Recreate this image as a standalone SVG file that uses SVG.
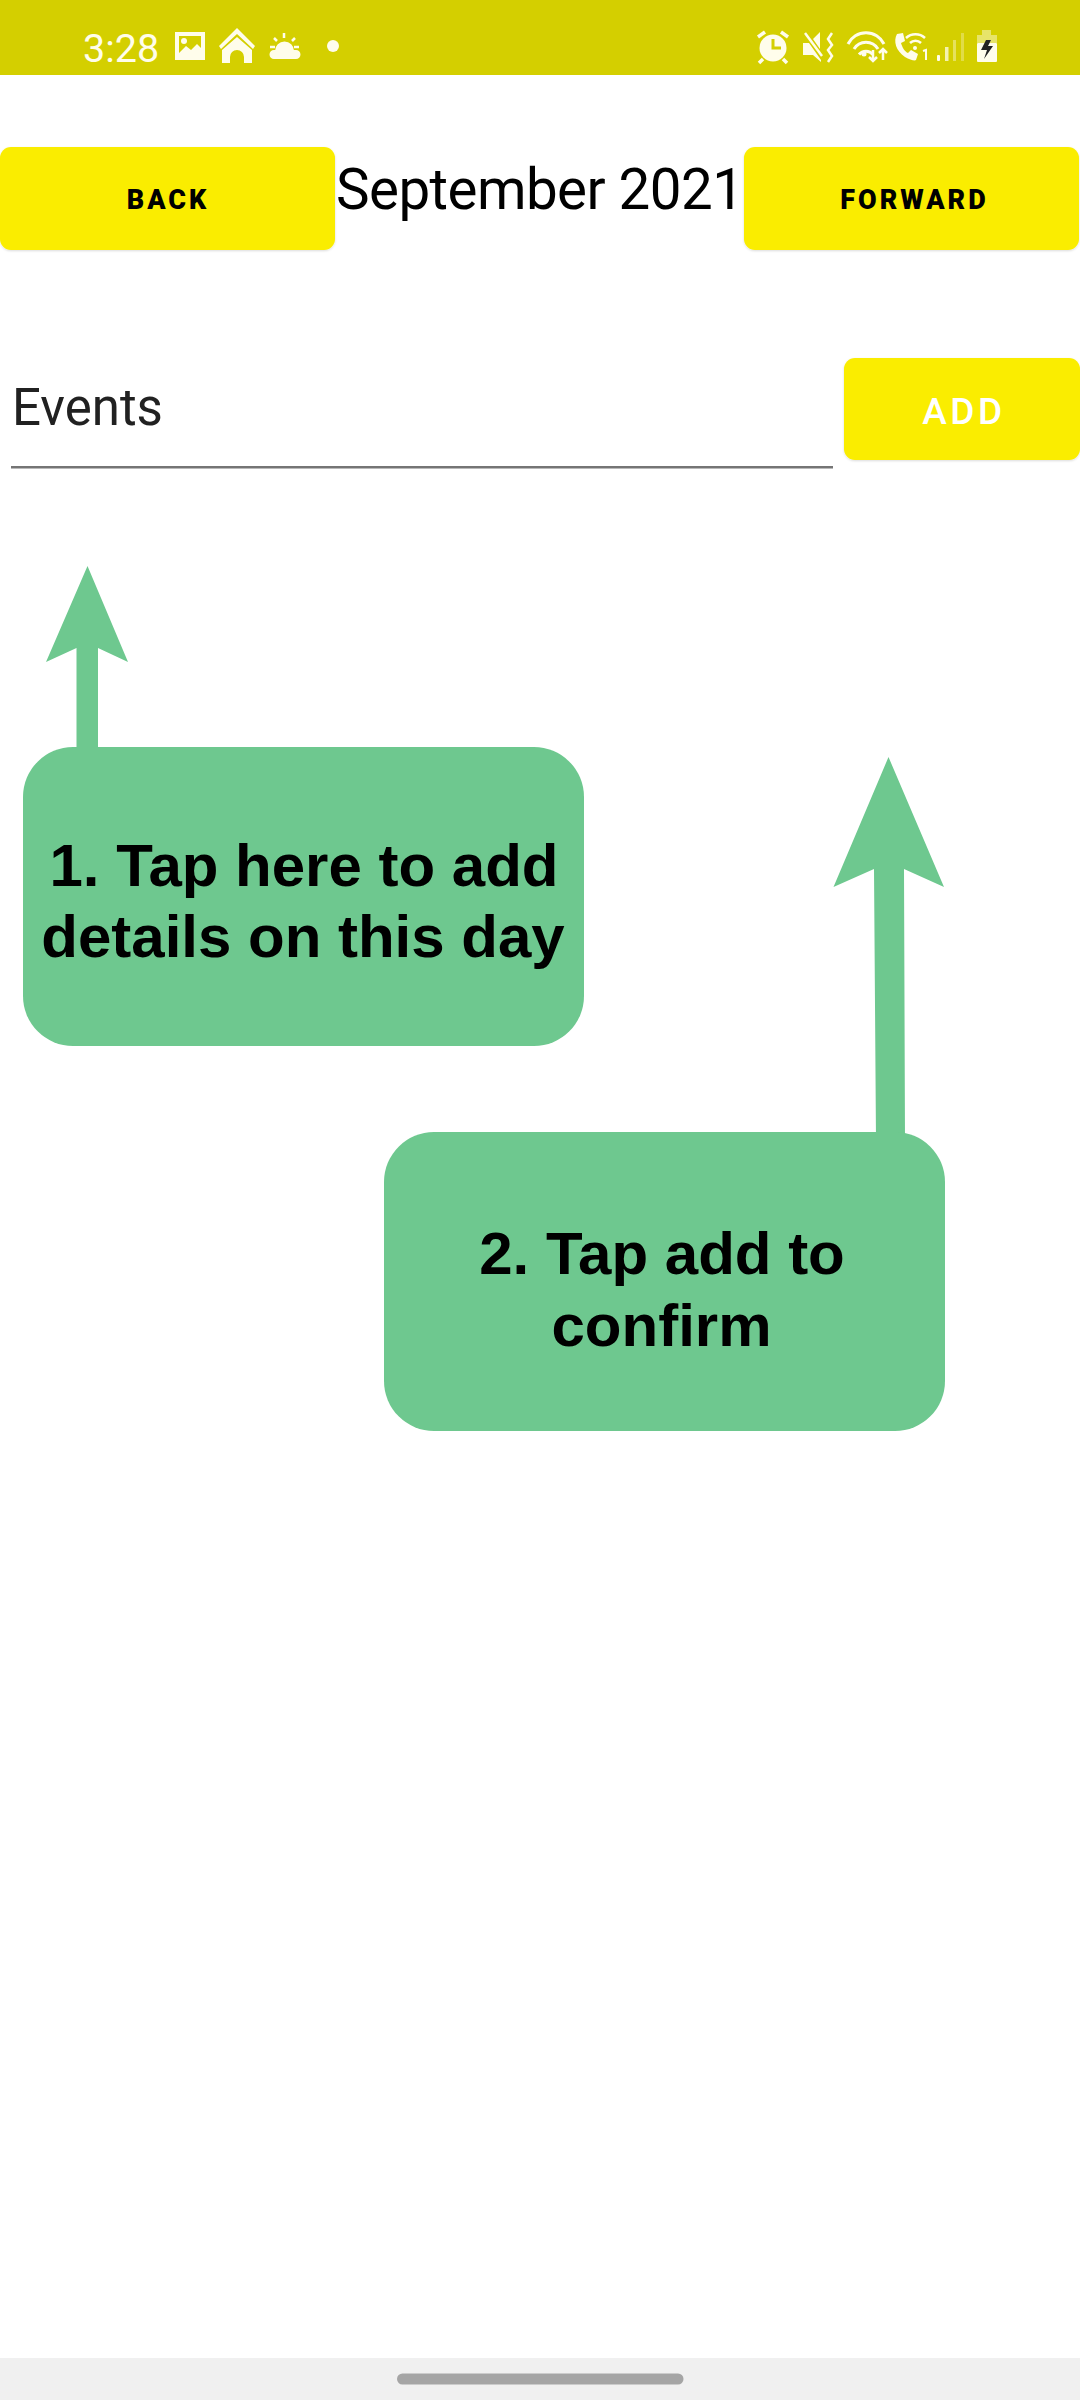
<svg xmlns="http://www.w3.org/2000/svg" width="1080" height="2400" viewBox="0 0 1080 2400">
<style>
.ui{font-family:"Roboto","Liberation Sans",sans-serif}
.callout{font-family:"Liberation Sans",Arial,sans-serif;font-weight:700;font-size:60px;text-anchor:middle;fill:#000}
.btn{fill:#faed00;filter:url(#sh)}
.btxt{font-family:"Roboto","Liberation Sans",sans-serif;font-weight:900;font-size:27px;letter-spacing:3px;text-anchor:middle;fill:#000}
.g{fill:#6ec88f}
.ic{fill:#fffdeb}
.ics{fill:none;stroke:#fffdeb}
</style>
<defs><filter id="sh" x="-5%" y="-10%" width="110%" height="125%"><feDropShadow dx="0" dy="1" stdDeviation="1" flood-color="#000" flood-opacity="0.14"/></filter></defs>
<rect width="1080" height="2400" fill="#fff"/>
<g id="status-bar">
<rect width="1080" height="75" fill="#d4cf00"/>
<text class="ui ic" x="83" y="61.500" font-size="39.500">3:28</text>
<path class="ic" fill-rule="evenodd" d="M175 32h30v28h-30zM179 36v17l7-7 5 4 6-6 4 4v-12z"/>
<circle class="ic" cx="184" cy="41" r="3"/>
<path class="ic" d="M237 28l18 18-2 3-16-15-16 15-2-3zM222 50l15-13 15 13v13h-8v-6a7 7 0 0 0-14 0v6h-8z"/>
<path class="ic" d="M274 50h22a4.500 4.500 0 0 1 0 9h-22a4.500 4.500 0 0 1 0-9zM275 51a9.500 9.500 0 0 1 19 0z"/>
<path class="ic" d="M288 51q6-4 9 2h-6z"/>
<path class="ics" stroke-width="2.500" d="M270 47h5M274 38l3 3M284 33v5M295 38l-3 3M294 47h5"/>
<circle class="ic" cx="333" cy="46" r="6"/>
<circle class="ic" cx="773" cy="48" r="13.500"/>
<path fill="none" stroke="#d4cf00" stroke-width="3" d="M773 39v9h8"/>
<path class="ics" stroke-width="3.500" d="M758 37l7-5M788 37l-7-5M763 59l-4 4M783 59l4 4"/>
<path class="ic" d="M803 43h6l12 17v2l-8-7h-10zM813 39l7-7v17z"/>
<path class="ics" stroke-width="2.500" d="M805 33l17 23"/>
<path class="ics" stroke-width="2.500" d="M832 33l-4 6 4 6-4 5 4 6-4 6"/>
<path class="ics" stroke-width="3" d="M848 44a20 20 0 0 1 36 0M854 49a14 14 0 0 1 24 0M859 54.500a9 9 0 0 1 14 0"/>
<circle class="ic" cx="864" cy="54" r="2.500"/>
<path class="ics" stroke-width="2.500" d="M873 50v11M869 57l4 4 4-4M883 60v-10M879 53l4-4 4 4"/>
<path class="ic" d="M897 34c-4 7-1 17 8 23 5 3 10 4 11 3l2-6-7-4-3 3c-3-1-6-6-7-10l4-2-2-8z"/>
<path class="ics" stroke-width="2.500" d="M906 38a14 14 0 0 1 19 0M910 43a8 8 0 0 1 11 0"/>
<circle class="ic" cx="915" cy="48" r="2"/>
<path class="ics" stroke-width="2" d="M923 51l3-1v10"/>
<rect class="ic" x="937" y="55" width="3" height="6" rx="1"/>
<rect class="ic" x="945" y="47" width="3.500" height="14" opacity=".75"/>
<rect x="953" y="40" width="3" height="21" fill="#fffdeb" opacity=".4"/>
<rect x="961" y="33" width="3" height="28" fill="#fffdeb" opacity=".3"/>
<path fill="#fffdeb" opacity=".45" d="M982 30h9v5h6v8h-20v-8h5z"/>
<rect class="ic" x="977" y="43" width="20" height="19" rx="1"/>
<path fill="#222" d="M986 40l-5 10h6l-3 9 9-13h-5l3-6z"/>
</g>
<g id="nav-bar">
<rect y="2358" width="1080" height="42" fill="#f0f0f0"/>
<rect x="397" y="2373.500" width="286.500" height="11" rx="5.500" fill="#a5a5a5"/>
</g>
<g id="back-button"><rect class="btn" x="0" y="147" width="335" height="103" rx="11"/><text class="btxt" x="168" y="209">BACK</text></g>
<g id="month-title"><text class="ui" x="336" y="209" font-size="56.500" letter-spacing="-0.550" fill="#000">September 2021</text></g>
<g id="forward-button"><rect class="btn" x="744" y="147" width="335" height="103" rx="11"/><text class="btxt" x="914.500" y="209">FORWARD</text></g>
<g id="events-field"><text class="ui" x="12" y="425" font-size="51" fill="#212121">Events</text><rect x="11" y="466" width="822" height="2.500" fill="#757575"/></g>
<g id="add-button"><rect class="btn" x="844" y="358" width="236" height="102" rx="11"/><text class="ui" x="964" y="423.500" font-size="37" font-weight="500" letter-spacing="3.500" text-anchor="middle" fill="#fff">ADD</text></g>
<g id="connectors">
<path class="g" d="M87.500 566L128 662 98 648V760H76.500V648L46 662z"/>
<path class="g" d="M888.500 757L944 887 904 869 905 1140H876L874 869 833.500 887z"/>
</g>
<g id="callout-1"><rect class="g" x="23" y="747" width="561" height="299" rx="50"/><text class="callout"><tspan x="304" y="885.500">1. Tap here to add</tspan><tspan x="303" y="957">details on this day</tspan></text></g>
<g id="callout-2"><rect class="g" x="384" y="1132" width="561" height="299" rx="50"/><text class="callout"><tspan x="662" y="1274">2. Tap add to</tspan><tspan x="661.500" y="1346">confirm</tspan></text></g>
</svg>
